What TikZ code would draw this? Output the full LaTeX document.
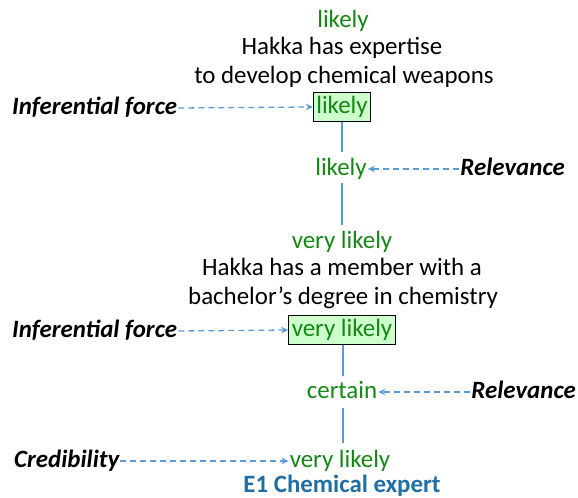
\documentclass[tikz,border=0pt]{standalone}
\usepackage{fontspec}
\setmainfont{Carlito}
\usetikzlibrary{arrows.meta}
\definecolor{lvlgreen}{RGB}{20,135,20}
\definecolor{boxgreen}{RGB}{204,255,204}
\definecolor{linkblue}{RGB}{91,155,213}
\definecolor{evblue}{RGB}{31,110,165}
\tikzset{
  txt/.style={font=\fontsize{25}{30}\selectfont, inner sep=1bp, text height=18bp, text depth=5bp},
  lvl/.style={txt, text=lvlgreen},
  lvlbox/.style={lvl, draw=black, fill=boxgreen, line width=1bp, inner sep=3bp},
  claim/.style={txt, text=black},
  factor/.style={txt, font=\fontsize{25}{30}\selectfont\bfseries\itshape},
  evid/.style={txt, font=\fontsize{25}{30}\selectfont\bfseries, text=evblue, inner sep=0pt},
  conn/.style={draw=linkblue, line width=1.3bp},
  push/.style={draw=linkblue, line width=1.3bp, dash pattern=on 6bp off 4bp, -{Stealth[length=7bp,width=6.5bp]}},
}
\begin{document}
\begin{tikzpicture}[x=1bp,y=-1bp]
\useasboundingbox (0,0) rectangle (578,498);

% upper claim
\node[lvl] (top) at (343,21) {likely};
\node[claim] (c1a) at (342,48) {Hakka has expertise};
\node[claim] (c1b) at (344,77) {to develop chemical weapons};
\node[lvlbox] (box1) at (342,107) {likely};
\node[factor, anchor=west] (if1) at (11,108) {Inferential force};
\node[lvl] (rel1) at (341,169) {likely};
\node[factor, anchor=east] (r1) at (566,169) {Relevance};

% lower claim
\node[lvl] (mid) at (342,242) {very likely};
\node[claim] (c2a) at (342,269) {Hakka has a member with a};
\node[claim] (c2b) at (343,298) {bachelor’s degree in chemistry};
\node[lvlbox] (box2) at (342,330) {very likely};
\node[factor, anchor=west] (if2) at (11,331) {Inferential force};
\node[lvl] (rel2) at (342,392) {certain};
\node[factor, anchor=east] (r2) at (577,392) {Relevance};

% evidence
\node[lvl] (ev) at (340,461) {very likely};
\node[factor, anchor=west] (cr) at (13,461) {Credibility};
\node[evid] (e1) at (342,486) {E1 Chemical expert};

% links between levels
\draw[conn, shorten >=4.5bp] (box1.south -| 342,0) -- (rel1.north -| 342,0);
\draw[conn, shorten <=1.5bp, shorten >=4.5bp] (rel1.south -| 342,0) -- (mid.north -| 342,0);
\draw[conn, shorten >=3.5bp] (box2.south -| 343,0) -- (rel2.north -| 343,0);
\draw[conn, shorten <=3.5bp, shorten >=5.5bp] (rel2.south -| 343,0) -- (ev.north -| 343,0);

% contributing factors
\draw[push] (if1.east) -- (box1.west);
\draw[push] (r1.west) -- (rel1.east);
\draw[push] (if2.east) -- (box2.west);
\draw[push] (r2.west) -- (rel2.east);
\draw[push] (cr.east) -- (ev.west);
\end{tikzpicture}
\end{document}
